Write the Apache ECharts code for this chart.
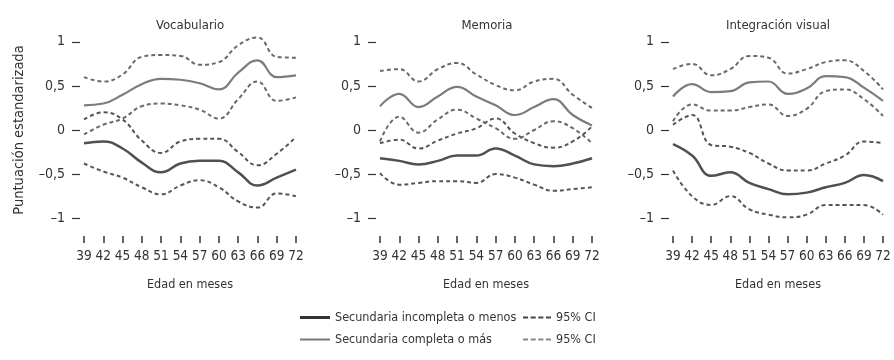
<!DOCTYPE html>
<html>
<head>
<meta charset="utf-8">
<script src="https://cdn.jsdelivr.net/npm/echarts@6/dist/echarts.min.js"></script>
<style>html,body{margin:0;padding:0;background:#fff;}#c{width:894px;height:360px;}</style>
</head>
<body>
<div id="c"></div>
<script>
// ---- data ----
const months = [39, 42, 45, 48, 51, 54, 57, 60, 63, 66, 69, 72];
const yTicks = [-1, -0.5, 0, 0.5, 1];
const panelTitles = ['Vocabulario', 'Memoria', 'Integración visual'];
const seriesNames = ['Secundaria incompleta o menos', 'Secundaria completa o más'];
const ciNames = ['95% CI', '95% CI '];

// Vocabulario
const vocLowMean  = [-0.15, -0.13, -0.21, -0.37, -0.48, -0.38, -0.35, -0.35, -0.48, -0.63, -0.54, -0.45];
const vocLowUp    = [0.12, 0.20, 0.12, -0.12, -0.26, -0.13, -0.10, -0.10, -0.25, -0.40, -0.27, -0.08];
const vocLowDn    = [-0.38, -0.47, -0.54, -0.65, -0.73, -0.63, -0.57, -0.65, -0.81, -0.88, -0.72, -0.75];
const vocHighMean = [0.28, 0.30, 0.40, 0.52, 0.58, 0.57, 0.53, 0.46, 0.65, 0.79, 0.60, 0.62];
const vocHighUp   = [0.60, 0.55, 0.63, 0.83, 0.85, 0.84, 0.74, 0.77, 0.96, 1.05, 0.83, 0.82];
const vocHighDn   = [-0.05, 0.06, 0.13, 0.27, 0.30, 0.28, 0.23, 0.13, 0.35, 0.55, 0.33, 0.37];

// Memoria
const memLowMean  = [-0.32, -0.35, -0.39, -0.35, -0.29, -0.29, -0.21, -0.29, -0.39, -0.41, -0.38, -0.32];
const memLowUp    = [-0.15, -0.11, -0.21, -0.12, -0.04, 0.02, 0.13, -0.04, -0.15, -0.20, -0.13, 0.04];
const memLowDn    = [-0.49, -0.62, -0.60, -0.58, -0.58, -0.60, -0.50, -0.54, -0.62, -0.69, -0.67, -0.65];
const memHighMean = [0.27, 0.41, 0.26, 0.38, 0.49, 0.38, 0.28, 0.17, 0.26, 0.35, 0.17, 0.05];
const memHighUp   = [0.67, 0.69, 0.55, 0.69, 0.76, 0.63, 0.51, 0.45, 0.55, 0.58, 0.40, 0.25];
const memHighDn   = [-0.13, 0.15, -0.03, 0.12, 0.23, 0.13, 0.02, -0.10, 0.00, 0.10, 0.02, -0.15];

// Integración visual
const ivLowMean  = [-0.16, -0.29, -0.52, -0.48, -0.60, -0.67, -0.73, -0.71, -0.65, -0.60, -0.51, -0.58];
const ivLowUp    = [0.06, 0.17, -0.17, -0.19, -0.26, -0.38, -0.46, -0.46, -0.38, -0.29, -0.13, -0.15];
const ivLowDn    = [-0.46, -0.75, -0.85, -0.75, -0.90, -0.96, -0.99, -0.96, -0.85, -0.85, -0.85, -0.96];
const ivHighMean = [0.38, 0.52, 0.43, 0.44, 0.54, 0.55, 0.41, 0.47, 0.61, 0.60, 0.48, 0.33];
const ivHighUp   = [0.69, 0.75, 0.62, 0.69, 0.84, 0.82, 0.64, 0.69, 0.77, 0.79, 0.67, 0.46];
const ivHighDn   = [0.10, 0.29, 0.22, 0.22, 0.26, 0.29, 0.16, 0.24, 0.44, 0.46, 0.35, 0.16];

const panels = [
  [vocLowMean, vocLowUp, vocLowDn, vocHighMean, vocHighUp, vocHighDn],
  [memLowMean, memLowUp, memLowDn, memHighMean, memHighUp, memHighDn],
  [ivLowMean, ivLowUp, ivLowDn, ivHighMean, ivHighUp, ivHighDn]
];

// ---- layout / style ----
const FONT = '"Liberation Sans Narrow", "DejaVu Sans Condensed", "Liberation Sans", sans-serif';
const TXT = '#333';
const gridLefts = [84, 380, 673];
const gridWidths = [212, 212, 210];
const titleX = [185, 482, 773];

function fmtY(v) {
  if (v === 0) return '0';
  return (v < 0 ? '–' : '') + String(Math.abs(v)).replace('.', ',');
}

const grids = [], xAxes = [], yAxes = [], titles = [], series = [];
for (let p = 0; p < 3; p++) {
  grids.push({ left: gridLefts[p], width: gridWidths[p], top: 33, height: 194 });
  titles.push({ text: panelTitles[p], left: titleX[p], top: 14, textAlign: 'center',
    textStyle: { fontFamily: FONT, fontSize: 13, fontWeight: 'normal', color: TXT } });
  xAxes.push({
    type: 'value', gridIndex: p, min: 39, max: 72, interval: 3, offset: 9,
    axisLine: { show: false, onZero: false }, splitLine: { show: false },
    axisTick: { show: true, length: 7, lineStyle: { color: '#333', width: 1.5 } },
    axisLabel: { margin: 13, fontFamily: FONT, fontSize: 13.5, color: TXT },
    name: 'Edad en meses', nameLocation: 'middle', nameGap: 42,
    nameTextStyle: { fontFamily: FONT, fontSize: 12.5, color: TXT }
  });
  yAxes.push({
    type: 'value', gridIndex: p, min: -1.1, max: 1.1, offset: 4,
    axisLine: { show: false, onZero: false }, splitLine: { show: false },
    axisTick: { show: true, length: 8, customValues: yTicks, lineStyle: { color: '#333', width: 1.2 } },
    axisLabel: { margin: 15, customValues: yTicks, formatter: fmtY, fontFamily: FONT, fontSize: 14, color: TXT },
    name: p === 0 ? 'Puntuación estandarizada' : '', nameLocation: 'middle', nameGap: 53, nameRotate: 90,
    nameTextStyle: { fontFamily: FONT, fontSize: 14.5, color: TXT }
  });
  const d = panels[p];
  const defs = [
    { name: seriesNames[0], data: d[0], color: '#505050', width: 2.5, type: 'solid' },
    { name: ciNames[0], data: d[1], color: '#555', width: 2, type: [4, 3] },
    { name: ciNames[0], data: d[2], color: '#555', width: 2, type: [4, 3] },
    { name: seriesNames[1], data: d[3], color: '#7c7c7c', width: 2.2, type: 'solid' },
    { name: ciNames[1], data: d[4], color: '#6a6a6a', width: 2, type: [4, 3] },
    { name: ciNames[1], data: d[5], color: '#6a6a6a', width: 2, type: [4, 3] }
  ];
  defs.forEach(s => {
    series.push({
      type: 'line', name: s.name, xAxisIndex: p, yAxisIndex: p,
      data: months.map((m, i) => [m, s.data[i]]),
      smooth: 0.45, symbol: 'none', showSymbol: false, clip: false,
      lineStyle: { color: s.color, width: s.width, type: s.type },
      itemStyle: { color: s.color }
    });
  });
}

const solidIcon = 'path://M0,0H30V3H0Z';
const thinIcon = 'path://M0,0H30V2H0Z';
const dashIcon = 'path://M0,0H5V2H0Z M7.5,0H12.5V2H7.5Z M15,0H20V2H15Z M22.5,0H27.5V2H22.5Z';
const legText = { fontFamily: FONT, fontSize: 12.5, color: TXT };

const chart = echarts.init(document.getElementById('c'), null, { renderer: 'canvas' });
chart.setOption({
  animation: false,
  backgroundColor: '#fff',
  title: titles,
  grid: grids,
  xAxis: xAxes,
  yAxis: yAxes,
  legend: [
    { data: [
        { name: seriesNames[0], icon: solidIcon, itemStyle: { color: '#333' } },
        { name: seriesNames[1], icon: thinIcon, itemStyle: { color: '#777' } }
      ],
      orient: 'vertical', left: 295, top: 306, itemWidth: 30, itemHeight: 14, itemGap: 9,
      textStyle: legText },
    { data: [
        { name: ciNames[0], icon: dashIcon, itemStyle: { color: '#444' } },
        { name: ciNames[1], icon: dashIcon, itemStyle: { color: '#888' } }
      ],
      orient: 'vertical', left: 518, top: 306, itemWidth: 28, itemHeight: 14, itemGap: 9,
      textStyle: legText }
  ],
  series: series
});
</script>
</body>
</html>
